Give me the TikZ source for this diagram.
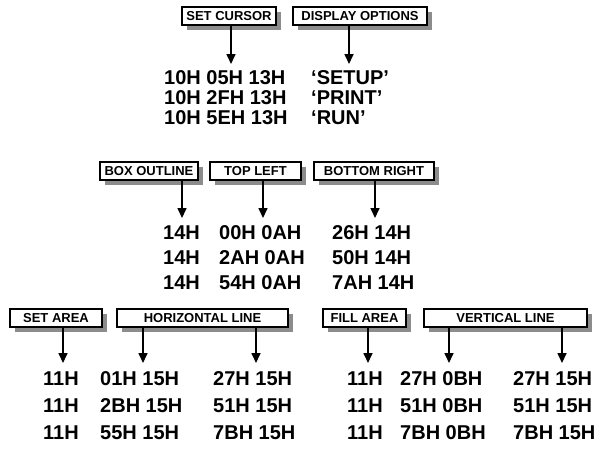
\documentclass[tikz,border=0pt]{standalone}
\usepackage{fontspec}
\setmainfont{Liberation Sans}
\usetikzlibrary{shadows,arrows.meta}
\begin{document}
\begin{tikzpicture}[x=1pt,y=-1pt,
  lbl/.style={draw, line width=1.6pt, fill=white, font=\fontsize{13}{15}\selectfont\bfseries,
    inner sep=0pt, minimum height=18pt,
    drop shadow={shadow xshift=5pt, shadow yshift=-5pt, fill=black!45, opacity=1}},
  val/.style={font=\fontsize{20}{24}\selectfont\bfseries, inner sep=0pt, anchor=base west},
  arr/.style={line width=1.6pt, -{Triangle[length=10pt,width=9pt]}}]
\useasboundingbox (0,0) rectangle (604,451);

% ---------- top section ----------
\node[lbl, minimum width=94pt] (sc) at (229,16) {SET CURSOR};
\node[lbl, minimum width=134pt] (do) at (360,16) {DISPLAY OPTIONS};
\coordinate (t1) at (231,64);
\coordinate (t2) at (349,64);
\draw[arr] (sc.south -| t1) -- (t1);
\draw[arr] (do.south -| t2) -- (t2);
\node[val] (a1) at (164,84)  {10H 05H 13H};
\node[val] (a2) at (164,104) {10H 2FH 13H};
\node[val] (a3) at (164,124) {10H 5EH 13H};
\node[val] (b1) at (311,84)  {‘SETUP’};
\node[val] (b2) at (311,104) {‘PRINT’};
\node[val] (b3) at (311,124) {‘RUN’};

% ---------- middle section ----------
\node[lbl, minimum width=98pt]  (bo) at (149,171) {BOX OUTLINE};
\node[lbl, minimum width=91pt]  (tl) at (255.5,171) {TOP LEFT};
\node[lbl, minimum width=120pt] (br) at (374,171) {BOTTOM RIGHT};
\coordinate (t3) at (182,218);
\coordinate (t4) at (263,218);
\coordinate (t5) at (375,218);
\draw[arr] (bo.south -| t3) -- (t3);
\draw[arr] (tl.south -| t4) -- (t4);
\draw[arr] (br.south -| t5) -- (t5);
\node[val] (c1) at (163,239) {14H};
\node[val] (c2) at (163,264) {14H};
\node[val] (c3) at (163,289) {14H};
\node[val] (d1) at (219,239) {00H 0AH};
\node[val] (d2) at (219,264) {2AH 0AH};
\node[val] (d3) at (219,289) {54H 0AH};
\node[val] (e1) at (332,239) {26H 14H};
\node[val] (e2) at (332,264) {50H 14H};
\node[val] (e3) at (332,289) {7AH 14H};

% ---------- bottom section ----------
\node[lbl, minimum width=92pt]  (sa) at (56,318) {SET AREA};
\node[lbl, minimum width=171pt] (hl) at (202.5,318) {HORIZONTAL LINE};
\node[lbl, minimum width=83pt]  (fa) at (364.5,318) {FILL AREA};
\node[lbl, minimum width=163pt] (vl) at (505.5,318) {VERTICAL LINE};
\coordinate (t6) at (63,363);
\coordinate (t7) at (143,363);
\coordinate (t8) at (256,363);
\coordinate (t9) at (368,363);
\coordinate (t10) at (449,363);
\coordinate (t11) at (562,363);
\draw[arr] (sa.south -| t6) -- (t6);
\draw[arr] (hl.south -| t7) -- (t7);
\draw[arr] (hl.south -| t8) -- (t8);
\draw[arr] (fa.south -| t9) -- (t9);
\draw[arr] (vl.south -| t10) -- (t10);
\draw[arr] (vl.south -| t11) -- (t11);
\node[val] (f1) at (43,385) {11H};
\node[val] (f2) at (43,412) {11H};
\node[val] (f3) at (43,439) {11H};
\node[val] (g1) at (100,385) {01H 15H};
\node[val] (g2) at (100,412) {2BH 15H};
\node[val] (g3) at (100,439) {55H 15H};
\node[val] (h1) at (213,385) {27H 15H};
\node[val] (h2) at (213,412) {51H 15H};
\node[val] (h3) at (213,439) {7BH 15H};
\node[val] (i1) at (347,385) {11H};
\node[val] (i2) at (347,412) {11H};
\node[val] (i3) at (347,439) {11H};
\node[val] (j1) at (400,385) {27H 0BH};
\node[val] (j2) at (400,412) {51H 0BH};
\node[val] (j3) at (400,439) {7BH 0BH};
\node[val] (k1) at (513,385) {27H 15H};
\node[val] (k2) at (513,412) {51H 15H};
\node[val] (k3) at (513,439) {7BH 15H};
\end{tikzpicture}
\end{document}
